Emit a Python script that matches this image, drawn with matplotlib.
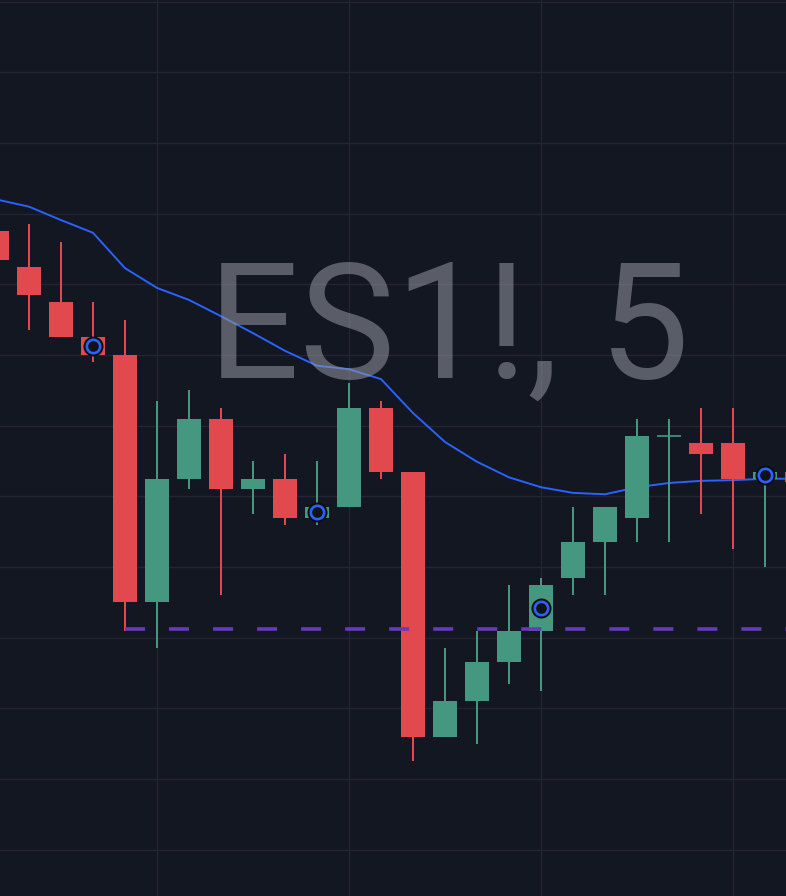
import matplotlib
matplotlib.use("Agg")
import matplotlib.pyplot as plt
import numpy as np

plt.rcParams['lines.scale_dashes'] = False

# ---------------- data (ES1!, 5-minute candles) ----------------
times = ["10:05", "10:10", "10:15", "10:20", "10:25", "10:30", "10:35", "10:40",
         "10:45", "10:50", "10:55", "11:00", "11:05", "11:10", "11:15", "11:20",
         "11:25", "11:30", "11:35", "11:40", "11:45", "11:50", "11:55", "12:00",
         "12:05", "12:10"]
opens = [5013.75, 5011.25, 5008.75, 5006.25, 5005.00, 4987.50, 4996.25, 5000.50,
         4995.50, 4996.25, 4993.50, 4994.25, 5001.25, 4996.75, 4978.00, 4980.50,
         4983.25, 4985.50, 4989.25, 4991.75, 4993.50, 4999.25, 4998.75, 4998.75,
         4996.25, 4996.75]
highs = [5014.25, 5014.25, 5013.00, 5008.75, 5007.50, 5001.75, 5002.50, 5001.25,
         4997.50, 4998.00, 4997.50, 5003.00, 5001.75, 4996.75, 4984.25, 4985.50,
         4988.75, 4989.25, 4994.25, 4994.25, 5000.50, 5000.50, 5001.25, 5001.25,
         4996.75, 4997.25]
lows = [5011.25, 5006.75, 5006.25, 5004.50, 4985.50, 4984.25, 4995.50, 4988.00,
        4993.75, 4993.00, 4993.00, 4994.25, 4996.25, 4976.25, 4978.00, 4977.50,
        4981.75, 4981.25, 4988.00, 4988.00, 4991.75, 4991.75, 4993.75, 4991.25,
        4990.00, 4995.00]
closes = [5011.75, 5009.25, 5006.25, 5005.00, 4987.50, 4996.25, 5000.50, 4995.50,
          4996.25, 4993.50, 4994.25, 5001.25, 4996.75, 4978.00, 4980.50, 4983.25,
          4985.50, 4988.75, 4991.75, 4994.25, 4999.25, 4999.25, 4998.00, 4996.25,
          4996.75, 4996.00]
moving_avg = [5016.00, 5015.50, 5014.55, 5013.65, 5011.15, 5009.75, 5008.90, 5007.75,
              5006.55, 5005.30, 5004.25, 5004.00, 5003.30, 5000.90, 4998.85, 4997.45,
              4996.35, 4995.65, 4995.25, 4995.15, 4995.65, 4995.95, 4996.10, 4996.15,
              4996.25, 4996.25]
signal_idx = [3, 10, 17, 24]
support_level = 4985.62
support_start = 4
watermark = "ES1!, 5"

# ---------------- style ----------------
BG = "#131722"
GRID = "#232632"
UP = "#46977F"
DOWN = "#E2494F"
BLUE = "#2962FF"
PURPLE = "#673AB7"

o = np.array(opens); h = np.array(highs); l = np.array(lows); c = np.array(closes)
x = np.arange(len(o))

fig = plt.figure(figsize=(7.86, 8.96), dpi=100, facecolor=BG)
ax = fig.add_axes([0, 0, 1, 1])
ax.set_facecolor(BG)
ax.set_xlim(0.09375, 24.65625)
ax.set_ylim(4966.73, 5030.12)
ax.axis("off")

# grid
for p in np.arange(4970, 5031, 5):
    ax.axhline(p, color=GRID, lw=1.0, zorder=0)
for i, t in enumerate(times):
    if int(t.split(":")[1]) % 30 == 0:
        ax.axvline(i, color=GRID, lw=1.0, zorder=0)

# watermark
fig.text(448.5 / 786, 1 - 378 / 896, watermark, fontsize=116, family="Roboto",
         color="#9598a1", alpha=0.55, ha="center", va="baseline", zorder=0.5)

# moving average
ax.plot(x, moving_avg, color=BLUE, lw=1.4, zorder=1.5, solid_joinstyle="round")

# candles
up = c >= o
cols = np.where(up, UP, DOWN)
ax.vlines(x, l, h, colors=cols, lw=1.44, zorder=2)
body_h = np.abs(c - o)
ax.bar(x, body_h, bottom=np.minimum(o, c), width=0.75, color=cols, lw=0, zorder=3)
doji = body_h < 0.01
ax.hlines(o[doji], x[doji] - 0.375, x[doji] + 0.375, colors=cols[doji], lw=1.2, zorder=3)

# support line
ax.plot([support_start, len(o) + 5], [support_level, support_level], color=PURPLE,
        lw=2.6, ls=(0, (14.4, 17.3)), dash_capstyle="butt", zorder=4)

# signal markers
for i in signal_idx:
    mid = (o[i] + c[i]) / 2
    ax.plot(i, mid, "o", ms=14.4, color="#0b0d12", mew=0, zorder=5)
    ax.plot(i, mid, "o", ms=9.6, mfc="#101216", mec=BLUE, mew=1.9, zorder=6)

fig.savefig("out.png", dpi=100, facecolor=BG)
